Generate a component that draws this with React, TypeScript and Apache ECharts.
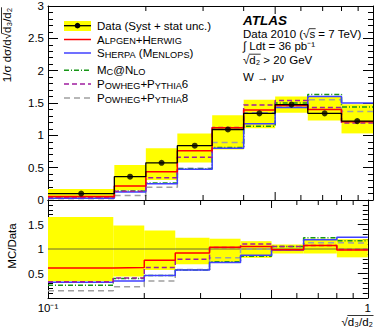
import React, { useEffect, useRef } from 'react';
import * as echarts from 'echarts';

const binEdges = [0.1, 0.16, 0.2, 0.25, 0.32, 0.4, 0.5, 0.63, 0.8, 1.0];
const dataValues = [0.1, 0.36, 0.575, 0.84, 1.09, 1.34, 1.475, 1.34, 1.22];
const dataUpper = [0.17, 0.54, 0.8, 1.03, 1.31, 1.55, 1.6, 1.6, 1.48];
const dataLower = [0.035, 0.15, 0.31, 0.58, 0.78, 1.11, 1.35, 1.23, 1.03];
const alpgen = [0.055, 0.217, 0.435, 0.76, 1.118, 1.39, 1.46, 1.4, 1.21];
const sherpa = [0.028, 0.124, 0.253, 0.477, 0.8, 1.18, 1.43, 1.6, 1.5];
const mcatnlo = [0.026, 0.14, 0.264, 0.485, 0.81, 1.14, 1.5, 1.63, 1.44];
const powheg6 = [0.04, 0.135, 0.346, 0.66, 1.12, 1.47, 1.54, 1.43, 1.19];
const powheg8 = [0.018, 0.07, 0.197, 0.49, 0.89, 1.35, 1.44, 1.55, 1.37];

const ratioUpper = [1.655, 1.48, 1.38, 1.23, 1.21, 1.16, 1.09, 1.21, 1.2];
const ratioLower = [0.34, 0.44, 0.57, 0.69, 0.72, 0.82, 0.91, 0.91, 0.83];
const alpgenRatio = [0.61, 0.62, 0.77, 0.92, 1.035, 1.05, 0.985, 1.07, 0.98];
const sherpaRatio = [0.32, 0.345, 0.46, 0.57, 0.725, 0.875, 0.98, 1.19, 1.24];
const mcatnloRatio = [0.26, 0.4, 0.46, 0.57, 0.74, 0.85, 1.05, 1.23, 1.17];
const powheg6Ratio = [0.33, 0.41, 0.62, 0.79, 1.03, 1.1, 1.05, 1.07, 0.99];
const powheg8Ratio = [0.15, 0.23, 0.345, 0.58, 0.82, 1.0, 0.98, 1.13, 1.12];

const xMinorTicks = [0.2, 0.3, 0.4, 0.5, 0.6, 0.7, 0.8, 0.9];
const topYTicks = { min: 0, max: 3, interval: 0.5 };
const ratioYTicks = { min: 0, max: 2, interval: 0.5 };

const FONT_NAME = 'Liberation Sans';
const FONT = "'Liberation Sans', Arial, Helvetica, sans-serif";
const FS = 11.5;
const FS_SMALL = 9.2;

const C = {
  yellow: '#ffff00',
  red: '#ff0000',
  blue: '#4040ff',
  green: '#169616',
  magenta: '#a01ea0',
  grey: '#a0a0a0',
};

let measureCtx: CanvasRenderingContext2D | null = null;
const textWidth = (s: string, size = FS) => {
  if (!measureCtx) measureCtx = document.createElement('canvas').getContext('2d');
  if (!measureCtx) return s.length * size * 0.55;
  measureCtx.font = `${size}px '${FONT_NAME}', Arial, sans-serif`;
  return measureCtx.measureText(s).width;
};

const stepData = (vals: number[]) => [
  ...vals.map((v, i) => [binEdges[i], v]),
  [binEdges[binEdges.length - 1], vals[vals.length - 1]],
];

const stepSeries = (vals: number[], color: string, dash: any, g: number, z: number, width = 1.5) => ({
  type: 'line',
  xAxisIndex: g * 2,
  yAxisIndex: g * 2,
  data: stepData(vals),
  step: 'end',
  symbol: 'none',
  silent: true,
  z,
  lineStyle: { color, width, type: dash },
});

const bandSeries = (lo: number[], hi: number[], g: number) => ({
  type: 'custom',
  xAxisIndex: g * 2,
  yAxisIndex: g * 2,
  silent: true,
  z: 1,
  encode: { x: [0, 1], y: [2, 3] },
  data: lo.map((l, i) => [binEdges[i], binEdges[i + 1], l, hi[i]]),
  renderItem: (params: any, api: any) => {
    const p1 = api.coord([api.value(0), api.value(3)]);
    const p2 = api.coord([api.value(1), api.value(2)]);
    return {
      type: 'rect',
      shape: { x: p1[0], y: p1[1], width: p2[0] - p1[0], height: p2[1] - p1[1] },
      style: { fill: C.yellow },
    };
  },
});

const tickSeries = (g: number, ymin: number, ymax: number) => ({
  type: 'custom',
  xAxisIndex: g * 2,
  yAxisIndex: g * 2,
  silent: true,
  clip: false,
  z: 10,
  data: xMinorTicks.map((v) => [v, ymin]),
  renderItem: (params: any, api: any) => {
    const v = api.value(0);
    const b = api.coord([v, ymin]);
    const t = api.coord([v, ymax]);
    const len = Math.abs(v - 0.5) < 1e-6 ? 8 : 5;
    return {
      type: 'group',
      children: [
        { type: 'line', shape: { x1: b[0], y1: b[1], x2: b[0], y2: b[1] - len }, style: { stroke: '#000', lineWidth: 1 } },
        { type: 'line', shape: { x1: t[0], y1: t[1], x2: t[0], y2: t[1] + len }, style: { stroke: '#000', lineWidth: 1 } },
      ],
    };
  },
});

const xAxisBase = (g: number, position: string, labels: boolean) => ({
  type: 'log',
  logBase: 10,
  gridIndex: g,
  min: 0.1,
  max: 1,
  position,
  axisLine: { show: true, onZero: false, lineStyle: { color: '#000', width: 1 } },
  axisTick: { show: false },
  splitLine: { show: false },
  minorTick: { show: false },
  axisLabel: labels
    ? {
        show: true,
        color: '#000',
        fontSize: FS,
        fontFamily: FONT,
        margin: 4,
        formatter: (v: number) => (v < 0.5 ? '10⁻¹' : '1'),
      }
    : { show: false },
});

const yAxisBase = (g: number, position: string, r: any, labels: boolean, fmt?: any) => ({
  type: 'value',
  gridIndex: g,
  position,
  min: r.min,
  max: r.max,
  interval: r.interval,
  axisLine: { show: true, onZero: false, lineStyle: { color: '#000', width: 1 } },
  axisTick: { show: true, inside: true, length: 10, lineStyle: { color: '#000' } },
  minorTick: { show: true, splitNumber: 5, length: 5, lineStyle: { color: '#000' } },
  splitLine: { show: false },
  axisLabel: labels
    ? { show: true, color: '#000', fontSize: FS, fontFamily: FONT, margin: 4, formatter: fmt }
    : { show: false },
});

const sc = (big: number, small: number) => ({
  b: { fontSize: big, fontFamily: FONT, fill: '#000', verticalAlign: 'bottom' },
  s: { fontSize: small, fontFamily: FONT, fill: '#000', verticalAlign: 'bottom' },
});

const legendRows = [
  { y: 25.7, text: 'Data (Syst + stat unc.)', rich: false },
  { y: 39.5, text: '{b|A}{s|LPGEN}{b|+H}{s|ERWIG}', rich: true, color: C.red, dash: null },
  { y: 53, text: '{b|S}{s|HERPA}{b| (M}{s|ENLOPS}{b|)}', rich: true, color: C.blue, dash: null },
  { y: 70.3, text: '{b|M}{s|C}{b|@N}{s|LO}', rich: true, color: C.green, dash: [5, 2, 1, 2] },
  { y: 84, text: '{b|P}{s|OWHEG}{b|+P}{s|YTHIA}{b|6}', rich: true, color: C.magenta, dash: [5, 3] },
  { y: 98, text: '{b|P}{s|OWHEG}{b|+P}{s|YTHIA}{b|8}', rich: true, color: C.grey, dash: [6, 4] },
];

const overline = (x1: number, y1: number, x2: number, y2: number) => ({
  type: 'line',
  shape: { x1, y1, x2, y2 },
  style: { stroke: '#000', lineWidth: 0.8 },
});

const buildGraphic = () => {
  const els: any[] = [];
  els.push({ type: 'rect', shape: { x: 64, y: 21, width: 27, height: 10 }, style: { fill: C.yellow } });
  els.push({ type: 'line', shape: { x1: 64, y1: 25.7, x2: 91, y2: 25.7 }, style: { stroke: '#000', lineWidth: 1.3 } });
  els.push({ type: 'circle', shape: { cx: 77.5, cy: 25.7, r: 2.8 }, style: { fill: '#000' } });
  legendRows.forEach((r: any, i) => {
    if (i > 0) {
      els.push({
        type: 'line',
        shape: { x1: 64, y1: r.y, x2: 91, y2: r.y },
        style: { stroke: r.color, lineWidth: 1.5, lineDash: r.dash || undefined },
      });
    }
    els.push({
      type: 'text',
      x: 97,
      y: r.y,
      style: r.rich
        ? { text: r.text, rich: sc(FS, FS_SMALL), verticalAlign: 'middle', align: 'left', fill: '#000' }
        : { text: r.text, fontSize: FS, fontFamily: FONT, verticalAlign: 'middle', align: 'left', fill: '#000' },
    });
  });
  // ATLAS block
  const bx = 243;
  els.push({
    type: 'text', x: bx, y: 20.5,
    style: { text: 'ATLAS', fontSize: 13.5, lineHeight: 13, fontWeight: 'bold', fontStyle: 'italic', fontFamily: FONT, fill: '#000', verticalAlign: 'middle' },
  });
  const l1 = 'Data 2010 (√s = 7 TeV)';
  els.push({
    type: 'text', x: bx, y: 34,
    style: { text: l1, fontSize: FS, lineHeight: 11, fontFamily: FONT, fill: '#000', verticalAlign: 'middle' },
  });
  const sx0 = bx + textWidth('Data 2010 (√');
  const sx1 = bx + textWidth('Data 2010 (√s');
  els.push(overline(sx0 - 0.5, 28.7, sx1 + 0.5, 28.7));
  els.push({
    type: 'text', x: bx, y: 45.5,
    style: { text: '∫ Ldt = 36 pb⁻¹', fontSize: FS, lineHeight: 11, fontFamily: FONT, fill: '#000', verticalAlign: 'middle' },
  });
  els.push({
    type: 'text', x: bx, y: 60,
    style: { text: '√d₂ > 20 GeV', fontSize: FS, lineHeight: 11, fontFamily: FONT, fill: '#000', verticalAlign: 'middle' },
  });
  const dx0 = bx + textWidth('√');
  const dx1 = bx + textWidth('√d₂');
  els.push(overline(dx0 - 0.5, 54.2, dx1 + 0.5, 54.2));
  els.push({
    type: 'text', x: bx, y: 76.5,
    style: { text: 'W → μν', fontSize: FS, lineHeight: 11, fontFamily: FONT, fill: '#000', verticalAlign: 'middle' },
  });
  // Y title (rotated)
  const yt = '1/σ dσ/d√d₃/d₂';
  const ytW = textWidth(yt);
  const ytCy = 45;
  const ytStart = ytCy + ytW / 2;
  const radStart = ytStart - textWidth('1/σ dσ/d√');
  els.push({
    type: 'text', x: 7, y: ytCy, rotation: Math.PI / 2,
    style: { text: yt, fontSize: FS, fontFamily: FONT, fill: '#000', align: 'center', verticalAlign: 'middle' },
  });
  els.push(overline(1.5, radStart + 0.5, 1.5, ytCy - ytW / 2 - 0.5));
  els.push({
    type: 'text', x: 12, y: 246, rotation: Math.PI / 2,
    style: { text: 'MC/Data', fontSize: FS, fontFamily: FONT, fill: '#000', align: 'center', verticalAlign: 'middle' },
  });
  // X title
  const xt = '√d₃/d₂';
  els.push({
    type: 'text', x: 373, y: 322,
    style: { text: xt, fontSize: FS, fontFamily: FONT, fill: '#000', align: 'right', verticalAlign: 'middle' },
  });
  els.push(overline(373 - textWidth('d₃/d₂') - 0.5, 315.5, 373.5, 315.5));
  return els;
};

export default function App() {
  const ref = useRef<HTMLDivElement>(null);
  useEffect(() => {
    const option: any = {
      animation: false,
      backgroundColor: '#fff',
      grid: [
        { left: 48, top: 5, width: 325, height: 195 },
        { left: 48, top: 200, width: 325, height: 98 },
      ],
      xAxis: [
        xAxisBase(0, 'bottom', false),
        xAxisBase(0, 'top', false),
        xAxisBase(1, 'bottom', true),
        xAxisBase(1, 'top', false),
      ],
      yAxis: [
        yAxisBase(0, 'left', topYTicks, true),
        yAxisBase(0, 'right', topYTicks, false),
        yAxisBase(1, 'left', ratioYTicks, true, (v: number) => (v === 0 || v === 2 ? '' : String(v))),
        yAxisBase(1, 'right', ratioYTicks, false),
      ],
      graphic: buildGraphic(),
      series: [
        bandSeries(dataLower, dataUpper, 0),
        stepSeries(powheg8, C.grey, [6, 4], 0, 3),
        stepSeries(mcatnlo, C.green, [5, 2, 1, 2], 0, 4),
        stepSeries(sherpa, C.blue, 'solid', 0, 4),
        stepSeries(powheg6, C.magenta, [5, 3], 0, 5),
        stepSeries(alpgen, C.red, 'solid', 0, 5),
        stepSeries(dataValues, '#000', 'solid', 0, 6, 1.3),
        {
          type: 'scatter',
          xAxisIndex: 0,
          yAxisIndex: 0,
          symbol: 'circle',
          symbolSize: 6,
          silent: true,
          z: 7,
          itemStyle: { color: '#000' },
          data: dataValues.map((v, i) => [Math.sqrt(binEdges[i] * binEdges[i + 1]), v]),
        },
        tickSeries(0, topYTicks.min, topYTicks.max),
        bandSeries(ratioLower, ratioUpper, 1),
        {
          type: 'line',
          xAxisIndex: 2,
          yAxisIndex: 2,
          symbol: 'none',
          silent: true,
          z: 2,
          data: [[0.1, 1], [1, 1]],
          lineStyle: { color: '#444', width: 0.8 },
        },
        stepSeries(powheg8Ratio, C.grey, [6, 4], 1, 3),
        stepSeries(mcatnloRatio, C.green, [5, 2, 1, 2], 1, 4),
        stepSeries(sherpaRatio, C.blue, 'solid', 1, 4),
        stepSeries(powheg6Ratio, C.magenta, [5, 3], 1, 5),
        stepSeries(alpgenRatio, C.red, 'solid', 1, 5),
        tickSeries(1, ratioYTicks.min, ratioYTicks.max),
      ],
    };
    const chart = echarts.init(ref.current as HTMLDivElement, null, { renderer: 'svg' });
    chart.setOption(option);
    return () => chart.dispose();
  }, []);
  return <div ref={ref} style={{ position: 'absolute', left: 0, top: 0, width: 374, height: 328 }} />;
}
